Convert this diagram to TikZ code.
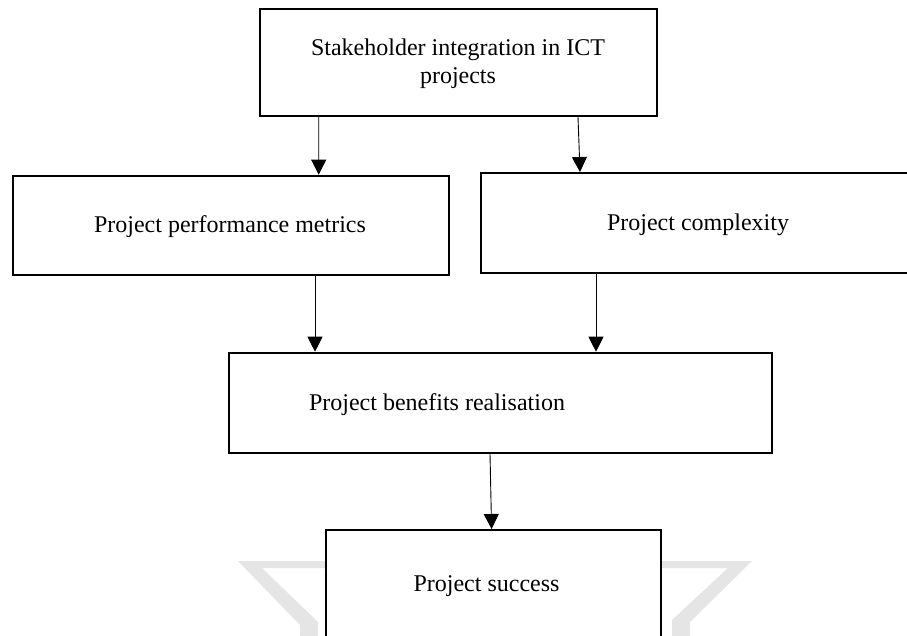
\documentclass[tikz,border=0pt]{standalone}
\usepackage{fontspec}
\setmainfont{Liberation Serif}
\usetikzlibrary{arrows.meta}
\begin{document}
\begin{tikzpicture}[x=1pt,y=-1pt,
  box/.style={draw=black, line width=2pt, fill=white, inner sep=0pt},
  txt/.style={font=\fontsize{24}{28}\selectfont, inner sep=0pt, align=center},
  arr/.style={line width=0.9pt, -{Triangle[length=15pt,width=15pt]}},
  emblem/.style={fill=black!10, draw=none}]
\useasboundingbox (0,0) rectangle (907,636);
\clip (0,0) rectangle (907,636);
\fill[white] (0,0) rectangle (907,636);

% faint emblem behind the last box
\fill[emblem] (238,561) -- (330,561) -- (330,568) -- (262,568) -- (318,622)
  -- (318,640) -- (300,640) -- (300,625) -- cycle;
\fill[emblem] (655,561) -- (752,561) -- (690,622) -- (690,640) -- (672,640)
  -- (672,620) -- (728,568) -- (655,568) -- cycle;

% boxes
\node[box, minimum width=396.5pt, minimum height=107pt] (stake) at (458.25,62.5) {};
\node[box, minimum width=436.3pt, minimum height=99.6pt] (perf) at (230.85,225.5) {};
\node[box, minimum width=434.4pt, minimum height=100pt] (compl) at (697.8,223) {};
\node[box, minimum width=543pt, minimum height=100pt] (benef) at (500,402.7) {};
\node[box, minimum width=334.5pt, minimum height=120pt] (succ) at (493.25,590) {};

% labels
\node[txt] (stakeT) at (458,64) {Stakeholder integration in ICT\\projects};
\node[txt] (perfT) at (230,227) {Project performance metrics};
\node[txt] (complT) at (698,225) {Project complexity};
\node[txt] (benefT) at (437,405) {Project benefits realisation};
\node[txt] (succT) at (486.5,586) {Project success};

% connectors
\draw[arr] ([xshift=-139.55pt]stake.south) -- ([xshift=87.85pt]perf.north);
\draw[arr] ([xshift=119.75pt]stake.south) -- ([xshift=-117.8pt]compl.north);
\draw[arr] ([xshift=84.15pt]perf.south) -- ([xshift=-185pt]benef.north);
\draw[arr] ([xshift=-101.8pt]compl.south) -- ([xshift=96pt]benef.north);
\draw[arr] ([xshift=-10pt]benef.south) -- ([xshift=-1.65pt]succ.north);
\end{tikzpicture}
\end{document}
